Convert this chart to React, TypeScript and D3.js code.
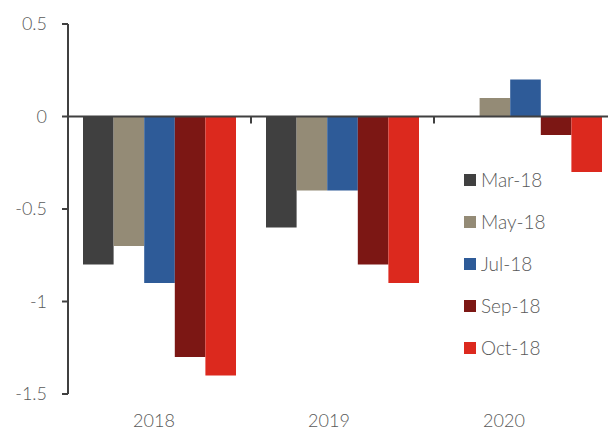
import React from "react";
import * as d3 from "d3";

const categories = ["2018", "2019", "2020"];
const seriesNames = ["Mar-18", "May-18", "Jul-18", "Sep-18", "Oct-18"];
const seriesColors = ["#404040", "#948b76", "#2e5b98", "#7c1714", "#dc291e"];
const mar18 = [-0.8, -0.6, 0];
const may18 = [-0.7, -0.4, 0.1];
const jul18 = [-0.9, -0.4, 0.2];
const sep18 = [-1.3, -0.8, -0.1];
const oct18 = [-1.4, -0.9, -0.3];
const seriesValues = [mar18, may18, jul18, sep18, oct18];
const yTicks = [0.5, 0, -0.5, -1, -1.5];

const W = 608;
const H = 430;
const FONT = "Lato, 'Open Sans', sans-serif";
const TXT = "#595959";
const AX = "#404040";

export default function App() {
  const x = d3.scaleBand<string>().domain(categories).range([68, 68 + 3 * 183]).padding(0);
  const xs = d3.scaleBand<string>().domain(seriesNames).range([15, 168]).padding(0);
  const y = d3.scaleLinear().domain([-1.5, 0.5]).range([394, 24]);
  const xl = d3.scalePoint<string>().domain(categories).range([154, 504]);
  const y0 = y(0);

  return (
    <svg width={W} height={H} style={{ position: "absolute", left: 0, top: 0, background: "#fff" }}>
      {/* bars */}
      {seriesNames.map((s, si) =>
        categories.map((c, ci) => {
          const v = seriesValues[si][ci];
          if (v === 0) return null;
          const yv = y(v);
          return (
            <rect
              key={s + c}
              x={(x(c) as number) + (xs(s) as number)}
              y={Math.min(yv, y0)}
              width={xs.bandwidth()}
              height={Math.abs(yv - y0)}
              fill={seriesColors[si]}
            />
          );
        })
      )}
      {/* y axis */}
      <line x1={68} x2={68} y1={y(0.5)} y2={y(-1.5)} stroke={AX} strokeWidth={2} />
      {yTicks.map((t) => (
        <g key={t}>
          <line x1={62} x2={68} y1={y(t)} y2={y(t)} stroke={AX} strokeWidth={2} />
          <text x={47} y={y(t)} dy="0.35em" textAnchor="end" fontFamily={FONT} fontWeight={300} fontSize={18} fill={TXT}>
            {t}
          </text>
        </g>
      ))}
      {/* zero line */}
      <line x1={68} x2={W} y1={y0} y2={y0} stroke={AX} strokeWidth={2} />
      {categories.slice(1).map((c) => (
        <line key={c} x1={x(c) as number} x2={x(c) as number} y1={y0} y2={y0 + 7} stroke={AX} strokeWidth={2} />
      ))}
      {/* x labels */}
      {categories.map((c) => (
        <text key={c} x={xl(c)} y={427} textAnchor="middle" fontFamily={FONT} fontWeight={300} fontSize={18} fill={TXT}>
          {c}
        </text>
      ))}
      {/* legend */}
      {seriesNames.map((s, i) => (
        <g key={s} transform={`translate(464, ${180 + i * 42})`}>
          <rect x={0} y={-6} width={12} height={12} fill={seriesColors[i]} />
          <text x={17} y={0} dy="0.35em" fontFamily={FONT} fontWeight={300} fontSize={19} fill={TXT}>
            {s}
          </text>
        </g>
      ))}
    </svg>
  );
}
